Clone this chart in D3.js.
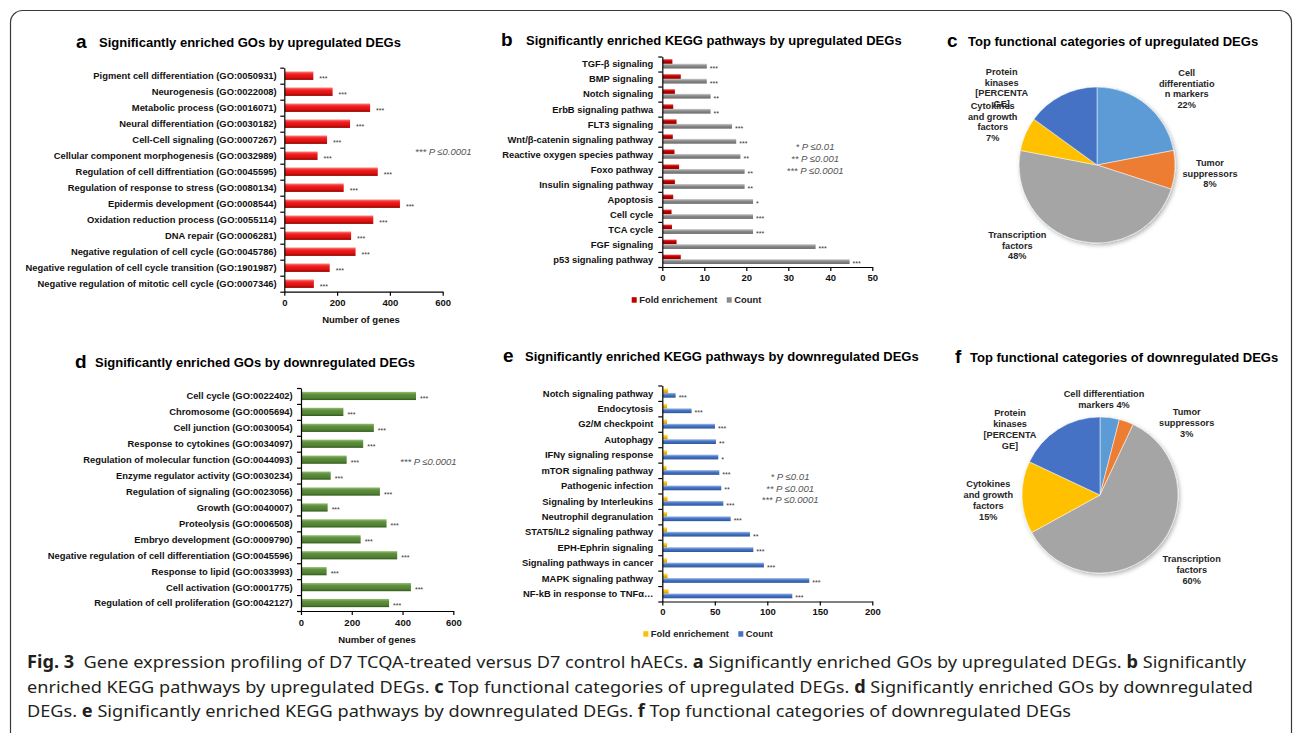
<!DOCTYPE html>
<html>
<head>
<meta charset="utf-8">
<script src="https://cdn.jsdelivr.net/npm/d3@7"></script>
<style>
body { margin: 0; background: #fff; }
svg text { font-family: "Liberation Sans", Arial, sans-serif; }
</style>
</head>
<body>
<svg id="fig" width="1296" height="733"></svg>
<script>
// ---- data ----
var goUpNames = ["Pigment cell differentiation (GO:0050931)", "Neurogenesis (GO:0022008)", "Metabolic process (GO:0016071)",
    "Neural differentiation (GO:0030182)", "Cell-Cell signaling (GO:0007267)", "Cellular component morphogenesis (GO:0032989)",
    "Regulation of cell diffrentiation (GO:0045595)", "Regulation of response to stress (GO:0080134)", "Epidermis development (GO:0008544)",
    "Oxidation reduction process (GO:0055114)", "DNA repair (GO:0006281)", "Negative regulation of cell cycle (GO:0045786)",
    "Negative regulation of cell cycle transition (GO:1901987)", "Negative regulation of mitotic cell cycle (GO:0007346)"];
var goUpCounts = [110, 183, 325, 249, 162, 126, 354, 225, 438, 337, 253, 270, 172, 112];

var goDownNames = ["Cell cycle (GO:0022402)", "Chromosome (GO:0005694)", "Cell junction (GO:0030054)", "Response to cytokines (GO:0034097)",
    "Regulation of molecular function (GO:0044093)", "Enzyme regulator activity (GO:0030234)", "Regulation of signaling (GO:0023056)",
    "Growth (GO:0040007)", "Proteolysis (GO:0006508)", "Embryo development (GO:0009790)",
    "Negative regulation of cell differentiation (GO:0045596)", "Response to lipid (GO:0033993)", "Cell activation (GO:0001775)",
    "Regulation of cell proliferation (GO:0042127)"];
var goDownCounts = [453, 167, 287, 245, 180, 117, 311, 105, 337, 235, 379, 101, 433, 347];

var keggUpNames = ["TGF-β signaling", "BMP signaling", "Notch signaling", "ErbB signaling pathwa", "FLT3 signaling",
    "Wnt/β-catenin signaling pathway", "Reactive oxygen species pathway", "Foxo pathway", "Insulin signaling pathway",
    "Apoptosis", "Cell cycle", "TCA cycle", "FGF signaling", "p53 signaling pathway"];
var keggUpFold = [2.4, 4.4, 3.0, 2.6, 3.4, 2.5, 2.9, 4.0, 3.0, 2.6, 2.2, 2.3, 3.4, 4.4];
var keggUpCount = [10.6, 10.6, 11.5, 11.5, 16.6, 17.6, 18.6, 19.6, 19.6, 21.6, 21.6, 21.6, 36.5, 44.6];
var keggUpStars = ["***", "***", "**", "**", "***", "***", "**", "**", "**", "*", "***", "***", "***", "***"];

var keggDownNames = ["Notch signaling pathway", "Endocytosis", "G2/M checkpoint", "Autophagy", "IFNγ signaling response",
    "mTOR signaling pathway", "Pathogenic infection", "Signaling by Interleukins", "Neutrophil degranulation",
    "STAT5/IL2 signaling pathway", "EPH-Ephrin signaling", "Signaling pathways in cancer", "MAPK signaling pathway",
    "NF-kB in response to TNFα…"];
var keggDownFold = [5.5, 4.5, 4.5, 5, 4.5, 4, 4.5, 5, 4.5, 4.5, 4.5, 4.5, 5, 6];
var keggDownCount = [12.7, 27.9, 50.2, 51.1, 53.3, 54.3, 56.2, 58.1, 65.1, 83.5, 86.7, 96.8, 140, 123.8];
var keggDownStars = ["***", "***", "***", "**", "*", "***", "**", "***", "***", "**", "***", "***", "***", "***"];

var catNames = ["Cell differentiation markers", "Tumor suppressors", "Transcription factors", "Cytokines and growth factors", "Protein kinases"];
var catUpValues = [22, 8, 48, 7, 15];
var catDownValues = [4, 3, 60, 15, 18];
// data label lines as Excel wrapped them; {v} is the slice value
var catUpLabels = [["Cell", "differentiatio", "n markers", "{v}%"], ["Tumor", "suppressors", "{v}%"], ["Transcription", "factors", "{v}%"],
    ["Cytokines", "and growth", "factors", "{v}%"], ["Protein", "kinases", "[PERCENTA", "GE]"]];
var catDownLabels = [["Cell differentiation", "markers {v}%"], ["Tumor", "suppressors", "{v}%"], ["Transcription", "factors", "{v}%"],
    ["Cytokines", "and growth", "factors", "{v}%"], ["Protein", "kinases", "[PERCENTA", "GE]"]];
var catColors = ["#5b9bd5", "#ed7d31", "#a5a5a5", "#ffc000", "#4472c4"];

var goTicks = [0, 200, 400, 600];
var keggUpTicks = [0, 10, 20, 30, 40, 50];
var keggDownTicks = [0, 50, 100, 150, 200];
var pLegend = ["* P ≤0.01", "** P ≤0.001", "*** P ≤0.0001"];

// ---- drawing ----
var svg = d3.select("#fig");
var defs = svg.append("defs");

function vGrad(id, stops) {
    var gr = defs.append("linearGradient").attr("id", id)
        .attr("x1", 0).attr("y1", 0).attr("x2", 0).attr("y2", 1);
    stops.forEach(function(s) {
        gr.append("stop").attr("offset", s[0]).attr("stop-color", s[1]);
    });
}
vGrad("gRed", [[0, "#ff8080"], [0.3, "#f22020"], [0.75, "#d80e0e"], [1, "#8c0000"]]);
vGrad("gGreen", [[0, "#93c070"], [0.3, "#5f9040"], [0.75, "#527f33"], [1, "#2f5a1a"]]);
vGrad("gGray", [[0, "#d0d0d0"], [0.4, "#8e8e8e"], [1, "#6a6a6a"]]);
vGrad("gDkRed", [[0, "#e04545"], [0.4, "#c00000"], [1, "#8a0000"]]);
vGrad("gBlue", [[0, "#a6bfe9"], [0.4, "#4a78c8"], [1, "#2c559c"]]);
vGrad("gGold", [[0, "#ffe48a"], [0.4, "#ffc000"], [1, "#c99400"]]);

var shadow = defs.append("filter").attr("id", "shadow").attr("x", "-20%").attr("y", "-20%").attr("width", "140%").attr("height", "140%");
shadow.append("feDropShadow").attr("dx", 1.5).attr("dy", 2).attr("stdDeviation", 2)
    .attr("flood-color", "#000").attr("flood-opacity", 0.3);

// frame
svg.append("rect").attr("x", 10.5).attr("y", 10.5).attr("width", 1281).attr("height", 800).attr("rx", 12)
    .attr("fill", "none").attr("stroke", "#3a3a3a").attr("stroke-width", 1.2);

function title(letter, text, lx, tx, y) {
    svg.append("text").attr("x", lx).attr("y", y + 1).attr("font-size", 19).attr("font-weight", "bold").text(letter);
    svg.append("text").attr("x", tx).attr("y", y).attr("font-size", 13).attr("font-weight", "bold").text(text);
}

function styleAxis(ax) {
    ax.attr("font-family", null);
    ax.selectAll("path, line").attr("stroke", "#000").attr("stroke-width", 1.2);
    ax.selectAll("text").attr("font-size", 9.5).attr("font-weight", "bold").attr("fill", "#111");
}

function yAxis(g, x0, y0, y1, n) {
    var yi = d3.scaleLinear().domain([0, n]).range([y0, y1]);
    var ax = g.append("g").attr("transform", "translate(" + x0 + ",0)")
        .call(d3.axisLeft(yi).tickValues(d3.range(n + 1)).tickFormat("").tickSize(4).tickSizeOuter(0));
    styleAxis(ax);
}

function goChart(o) {
    var g = svg.append("g");
    var x = d3.scaleLinear().domain([0, 600]).range([o.x0, o.x1]);
    var y = d3.scaleBand().domain(o.names).range([o.y0, o.y1]);
    var mid = function(d) { return y(d) + y.bandwidth() / 2; };

    g.selectAll("rect.bar").data(o.names).join("rect").attr("class", "bar")
        .attr("x", x(0) + 0.6)
        .attr("y", function(d) { return mid(d) - o.barH / 2; })
        .attr("width", function(d, i) { return x(o.values[i]) - x(0) - 0.6; })
        .attr("height", o.barH)
        .attr("fill", "url(#" + o.grad + ")");

    g.selectAll("text.star").data(o.names).join("text").attr("class", "star")
        .attr("x", function(d, i) { return x(o.values[i]) + o.starGap; })
        .attr("y", function(d) { return mid(d) + 5; })
        .attr("font-size", 7).attr("fill", "#333").text("***");

    g.selectAll("text.lab").data(o.names).join("text").attr("class", "lab")
        .attr("x", x(0) - o.labGap)
        .attr("y", function(d) { return mid(d) + 3.4; })
        .attr("text-anchor", "end").attr("font-size", 9.4).attr("font-weight", "bold").attr("fill", "#111")
        .text(function(d) { return d; });

    yAxis(g, x(0), o.y0, o.y1, o.names.length);
    var ax = g.append("g").attr("transform", "translate(0," + o.y1 + ")")
        .call(d3.axisBottom(x).tickValues(goTicks).tickSize(4).tickSizeOuter(0).tickPadding(4));
    styleAxis(ax);

    g.append("text").attr("x", o.xTitleX).attr("y", o.y1 + 31.5).attr("text-anchor", "middle")
        .attr("font-size", 9.5).attr("font-weight", "bold").attr("fill", "#111").text("Number of genes");

    g.append("text").attr("x", o.pX).attr("y", o.pY).attr("font-size", 9.5).attr("font-style", "italic")
        .attr("fill", "#555").text(pLegend[2]);
}

function keggChart(o) {
    var g = svg.append("g");
    var x = d3.scaleLinear().domain([0, o.max]).range([o.x0, o.x1]);
    var y = d3.scaleBand().domain(o.names).range([o.y0, o.y1]);
    var mid = function(d) { return y(d) + y.bandwidth() / 2; };
    var h = 4.8;

    g.selectAll("rect.fold").data(o.names).join("rect").attr("class", "fold")
        .attr("x", x(0) + 0.6)
        .attr("y", function(d) { return mid(d) - h; })
        .attr("width", function(d, i) { return x(o.fold[i]) - x(0) - 0.6; })
        .attr("height", h).attr("fill", "url(#" + o.gradA + ")");

    g.selectAll("rect.count").data(o.names).join("rect").attr("class", "count")
        .attr("x", x(0) + 0.6)
        .attr("y", function(d) { return mid(d) - 0.3; })
        .attr("width", function(d, i) { return x(o.count[i]) - x(0) - 0.6; })
        .attr("height", h).attr("fill", "url(#" + o.gradB + ")");

    g.selectAll("text.star").data(o.names).join("text").attr("class", "star")
        .attr("x", function(d, i) { return x(o.count[i]) + 3; })
        .attr("y", function(d) { return mid(d) + 6.6; })
        .attr("font-size", 7).attr("fill", "#333")
        .text(function(d, i) { return o.stars[i]; });

    g.selectAll("text.lab").data(o.names).join("text").attr("class", "lab")
        .attr("x", x(0) - 9)
        .attr("y", function(d) { return mid(d) + 3.4; })
        .attr("text-anchor", "end").attr("font-size", 9.4).attr("font-weight", "bold").attr("fill", "#111")
        .text(function(d) { return d; });

    yAxis(g, x(0), o.y0, o.y1, o.names.length);
    var ax = g.append("g").attr("transform", "translate(0," + o.y1 + ")")
        .call(d3.axisBottom(x).tickValues(o.ticks).tickSize(4).tickSizeOuter(0).tickPadding(3));
    styleAxis(ax);

    // p-value key
    g.selectAll("text.pkey").data(pLegend).join("text").attr("class", "pkey")
        .attr("x", o.pX).attr("y", function(d, i) { return o.pY + i * 11.6; })
        .attr("text-anchor", "middle").attr("font-size", 9.6).attr("font-style", "italic").attr("fill", "#555")
        .text(function(d) { return d; });

    // legend
    var leg = [["Fold enrichement", o.colA, o.legX], ["Count", o.colB, o.legX + 95]];
    leg.forEach(function(l) {
        g.append("rect").attr("x", l[2]).attr("y", o.legY - 2.8).attr("width", 5).attr("height", 5.5).attr("fill", l[1]);
        g.append("text").attr("x", l[2] + 7.5).attr("y", o.legY + 3.4).attr("font-size", 9.4)
            .attr("font-weight", "bold").attr("fill", "#222").text(l[0]);
    });
}

function pieChart(o) {
    var arcs = d3.pie().sort(null).value(function(d) { return d; })(o.values);
    var arc = d3.arc().innerRadius(0).outerRadius(o.r);
    var g = svg.append("g").attr("transform", "translate(" + o.cx + "," + o.cy + ")");
    g.append("g").attr("filter", "url(#shadow)")
        .selectAll("path").data(arcs).join("path")
        .attr("d", arc)
        .attr("fill", function(d, i) { return catColors[i]; })
        .attr("stroke", "#fff").attr("stroke-width", 0.5);

    o.labels.forEach(function(lines, i) {
        var t = svg.append("text").attr("text-anchor", "middle").attr("font-size", 9.2)
            .attr("font-weight", "bold").attr("fill", "#262626");
        lines.forEach(function(s, j) {
            t.append("tspan").attr("x", o.pos[i][0]).attr("y", o.pos[i][1] + j * o.lh)
                .text(s.replace("{v}", o.values[i]));
        });
    });
}

// panel a
title("a", "Significantly enriched GOs by upregulated DEGs", 76, 99, 47);
goChart({ names: goUpNames, values: goUpCounts, x0: 284.3, x1: 442.7, y0: 67.7, y1: 291.7, barH: 8.4,
    grad: "gRed", starGap: 6, labGap: 7.6, xTitleX: 361, pX: 415, pY: 155 });

// panel d
title("d", "Significantly enriched GOs by downregulated DEGs", 75, 95, 367);
goChart({ names: goDownNames, values: goDownCounts, x0: 301, x1: 453.3, y0: 388, y1: 611, barH: 8.2,
    grad: "gGreen", starGap: 4, labGap: 8.3, xTitleX: 377, pX: 400, pY: 464.5 });

// panel b
title("b", "Significantly enriched KEGG pathways by upregulated DEGs", 501, 526, 45);
keggChart({ names: keggUpNames, fold: keggUpFold, count: keggUpCount, stars: keggUpStars, max: 50, ticks: keggUpTicks,
    x0: 662.3, x1: 872.3, y0: 56.5, y1: 267, gradA: "gDkRed", gradB: "gGray", colA: "#c00000", colB: "#8c8c8c",
    pX: 815, pY: 150.3, legX: 631.7, legY: 300 });

// panel e
title("e", "Significantly enriched KEGG pathways by downregulated DEGs", 503, 525, 361);
keggChart({ names: keggDownNames, fold: keggDownFold, count: keggDownCount, stars: keggDownStars, max: 200, ticks: keggDownTicks,
    x0: 662.3, x1: 872.3, y0: 385.5, y1: 601.5, gradA: "gGold", gradB: "gBlue", colA: "#ffc000", colB: "#4472c4",
    pX: 790, pY: 480.2, legX: 643.3, legY: 634 });

// panel c
title("c", "Top functional categories of upregulated DEGs", 947, 968, 46);
pieChart({ values: catUpValues, labels: catUpLabels, cx: 1097, cy: 165, r: 78, lh: 10.5,
    pos: [[1186.7, 76], [1210, 166], [1017.3, 238.3], [992.7, 109.3], [1001.7, 75]] });

// panel f
title("f", "Top functional categories of downregulated DEGs", 955, 970, 362);
pieChart({ values: catDownValues, labels: catDownLabels, cx: 1100, cy: 495, r: 78, lh: 11,
    pos: [[1104, 397.3], [1186.7, 415], [1191.7, 562.3], [988.3, 486.6], [1010, 416]] });

// caption
var caption = [
    [["Fig. 3", true], ["  Gene expression profiling of D7 TCQA-treated versus D7 control hAECs. ", false], ["a", true],
     [" Significantly enriched GOs by upregulated DEGs. ", false], ["b", true], [" Significantly", false]],
    [["enriched KEGG pathways by upregulated DEGs. ", false], ["c", true], [" Top functional categories of upregulated DEGs. ", false],
     ["d", true], [" Significantly enriched GOs by downregulated", false]],
    [["DEGs. ", false], ["e", true], [" Significantly enriched KEGG pathways by downregulated DEGs. ", false], ["f", true],
     [" Top functional categories of downregulated DEGs", false]]
];
// measured widths of the two full lines; the last line uses the same squeeze
var capLen = [1219, 1226];
var capNodes = caption.map(function(parts, i) {
    var t = svg.append("text").attr("x", 27).attr("y", 668 + i * 24.7)
        .attr("font-size", 17).attr("fill", "#231f20")
        .style("font-family", "'Noto Sans', 'Open Sans', sans-serif")
        .style("white-space", "pre");
    parts.forEach(function(p) {
        t.append("tspan").attr("font-weight", p[1] ? "bold" : "normal").text(p[0]);
    });
    return t;
});
var natural = capNodes.map(function(t) { return t.node().getComputedTextLength(); });
var squeeze = (capLen[0] / natural[0] + capLen[1] / natural[1]) / 2;
capNodes.forEach(function(t, i) {
    var len = i < 2 ? capLen[i] : natural[i] * squeeze;
    t.attr("textLength", len).attr("lengthAdjust", "spacingAndGlyphs");
});
</script>
</body>
</html>
